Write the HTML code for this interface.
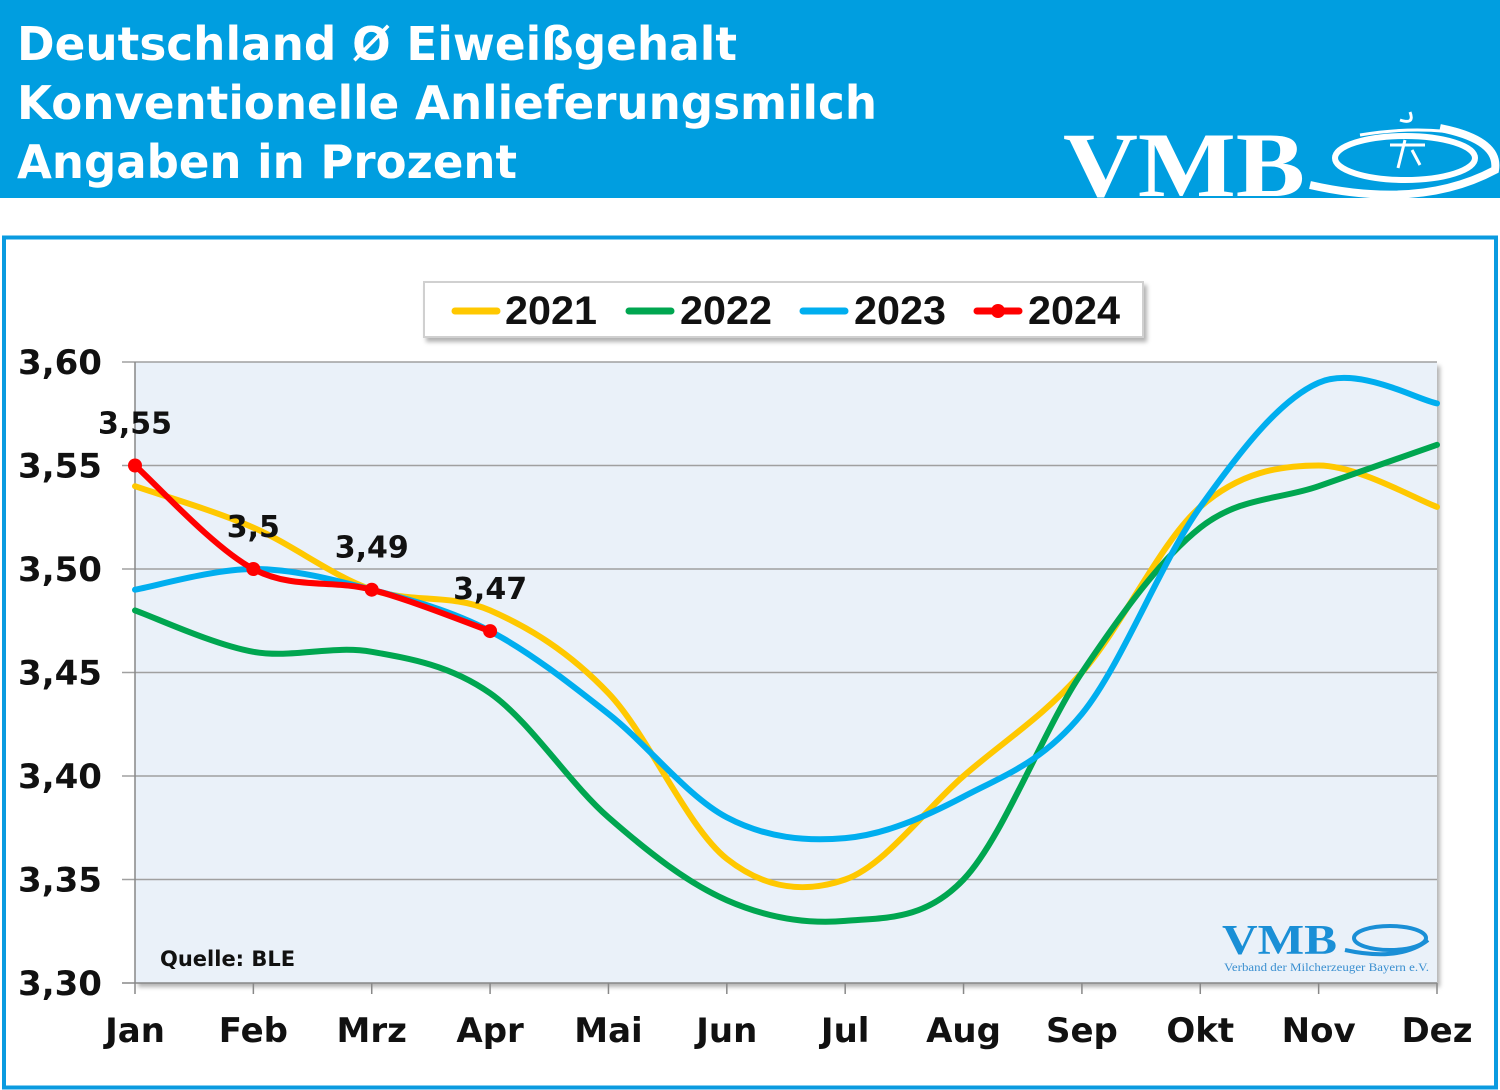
<!DOCTYPE html>
<html><head><meta charset="utf-8"><style>
html,body{margin:0;padding:0;background:#fff;}
svg{display:block;}
</style></head><body>
<svg id="s" width="1500" height="1090" viewBox="0 0 1500 1090" xmlns="http://www.w3.org/2000/svg">
<defs>
<filter id="sh" x="-5%" y="-5%" width="110%" height="130%"><feDropShadow dx="3" dy="4" stdDeviation="2" flood-color="#000" flood-opacity="0.3"/></filter>
</defs>
<rect x="0" y="0" width="1500" height="198" fill="#009ee0"/>
<g font-family="'DejaVu Sans','Liberation Sans',sans-serif" font-weight="bold" fill="#fff" font-size="46">
<text x="17" y="60" textLength="720" lengthAdjust="spacingAndGlyphs">Deutschland Ø Eiweißgehalt</text>
<text x="17" y="119" textLength="860" lengthAdjust="spacingAndGlyphs">Konventionelle Anlieferungsmilch</text>
<text x="17" y="178" textLength="500" lengthAdjust="spacingAndGlyphs">Angaben in Prozent</text>
</g>
<!-- big logo -->
<text x="1063" y="196" font-family="'Liberation Serif',serif" font-weight="bold" font-size="92" fill="#fff" textLength="242" lengthAdjust="spacingAndGlyphs">VMB</text>
<g fill="none" stroke="#fff">
<ellipse cx="1405" cy="158" rx="70" ry="22" stroke-width="6"/>
<path d="M1310 185 Q1420 210 1495 170 Q1500 140 1440 128" stroke-width="8"/>
<path d="M1360 135 Q1420 125 1470 135" stroke-width="3"/>
<path d="M1390 145 L1425 145 M1405 140 L1398 168 M1412 150 L1420 165 M1400 120 Q1415 125 1410 112" stroke-width="3"/>
</g>
<!-- frame -->
<rect x="4" y="237.5" width="1492" height="850" fill="#fff" stroke="#0a9be0" stroke-width="4"/>
<!-- plot area -->
<rect x="135" y="362" width="1302" height="621" fill="#eaf1f9" filter="url(#sh)"/>
<g id="grid" stroke="#a0a0a0" stroke-width="1.5"></g>
<line x1="135" y1="362" x2="135" y2="983" stroke="#888" stroke-width="1.5"/>
<g id="ticks" stroke="#888" stroke-width="1.5"></g>
<g id="ylab" font-family="'DejaVu Sans','Liberation Sans',sans-serif" font-weight="bold" font-size="34" fill="#111"></g>
<g id="xlab" font-family="'DejaVu Sans','Liberation Sans',sans-serif" font-weight="bold" font-size="34" fill="#111" text-anchor="middle"></g>
<g id="series" fill="none" stroke-width="6" stroke-linecap="round"></g>
<text x="160" y="966" font-family="'DejaVu Sans','Liberation Sans',sans-serif" font-weight="bold" font-size="21" fill="#111">Quelle: BLE</text>
<!-- small logo -->
<text x="1222" y="954" font-family="'Liberation Serif',serif" font-weight="bold" font-size="42" fill="#1a8fd6" textLength="115" lengthAdjust="spacingAndGlyphs">VMB</text>
<ellipse cx="1390" cy="938" rx="36" ry="12" fill="none" stroke="#1a8fd6" stroke-width="4"/>
<path d="M1345 950 Q1400 962 1428 940" fill="none" stroke="#1a8fd6" stroke-width="4"/>
<text x="1224" y="971" font-family="'Liberation Serif',serif" font-size="12" fill="#3a8fd0" textLength="205" lengthAdjust="spacingAndGlyphs">Verband der Milcherzeuger Bayern e.V.</text>
<!-- legend -->
<rect x="424" y="282" width="719" height="55" fill="#fff" stroke="#d0d0d0" stroke-width="2" filter="url(#sh)"/>
<g stroke-width="7" stroke-linecap="round">
<line x1="455" y1="311" x2="497" y2="311" stroke="#ffc800"/>
<line x1="629" y1="311" x2="671" y2="311" stroke="#00a650"/>
<line x1="803" y1="311" x2="845" y2="311" stroke="#00aeef"/>
<line x1="977" y1="311" x2="1019" y2="311" stroke="#ff0000"/>
</g>
<circle cx="998" cy="311" r="7" fill="#ff0000"/>
<g font-family="'Liberation Sans',sans-serif" font-weight="bold" font-size="40" fill="#111">
<text x="505" y="324" textLength="92" lengthAdjust="spacingAndGlyphs">2021</text>
<text x="680" y="324" textLength="92" lengthAdjust="spacingAndGlyphs">2022</text>
<text x="854" y="324" textLength="92" lengthAdjust="spacingAndGlyphs">2023</text>
<text x="1028" y="324" textLength="92" lengthAdjust="spacingAndGlyphs">2024</text>
</g>
<g id="dl" font-family="'DejaVu Sans','Liberation Sans',sans-serif" font-weight="bold" font-size="30" fill="#111" text-anchor="middle"></g>
</svg>
<script>
var NS="http://www.w3.org/2000/svg";
function el(t,a,p,txt){var e=document.createElementNS(NS,t);for(var k in a)e.setAttribute(k,a[k]);if(txt!=null)e.textContent=txt;document.getElementById(p).appendChild(e);return e;}
function X(i){return 135+i*(1302/11);}
function Y(v){return 983-(v-3.3)*2070;}
var yl=["3,30","3,35","3,40","3,45","3,50","3,55","3,60"];
for(var i=0;i<7;i++){var y=983-i*103.5;
 el("line",{x1:122,y1:y,x2:1437,y2:y},i==0?"ticks":"grid");
 el("text",{x:18,y:y+12,textLength:84,lengthAdjust:"spacingAndGlyphs"},"ylab",yl[i]);}
var m=["Jan","Feb","Mrz","Apr","Mai","Jun","Jul","Aug","Sep","Okt","Nov","Dez"];
for(var i=0;i<12;i++){el("line",{x1:X(i),y1:983,x2:X(i),y2:994},"ticks");el("text",{x:X(i),y:1042},"xlab",m[i]);}
function path(d){var p=d.map(function(v,i){return [X(i),Y(v)];});var s="M"+p[0][0]+" "+p[0][1];
 for(var i=0;i<p.length-1;i++){var p0=p[i-1]||p[i],p1=p[i],p2=p[i+1],p3=p[i+2]||p2;var t=6;
  s+=" C"+(p1[0]+(p2[0]-p0[0])/t)+" "+(p1[1]+(p2[1]-p0[1])/t)+" "+(p2[0]-(p3[0]-p1[0])/t)+" "+(p2[1]-(p3[1]-p1[1])/t)+" "+p2[0]+" "+p2[1];}
 return s;}
var S=[["#ffc800",[3.54,3.52,3.49,3.48,3.44,3.36,3.35,3.40,3.45,3.53,3.55,3.53]],
["#00a650",[3.48,3.46,3.46,3.44,3.38,3.34,3.33,3.35,3.45,3.52,3.54,3.56]],
["#00aeef",[3.49,3.50,3.49,3.47,3.43,3.38,3.37,3.39,3.43,3.53,3.59,3.58]],
["#ff0000",[3.55,3.50,3.49,3.47]]];
S.forEach(function(s){el("path",{d:path(s[1]),stroke:s[0]},"series");});
var r=S[3][1],lb=["3,55","3,5","3,49","3,47"];
r.forEach(function(v,i){el("circle",{cx:X(i),cy:Y(v),r:7,fill:"#ff0000",stroke:"none"},"series");
 el("text",{x:X(i)+(i==0?0:0),y:Y(v)-32},"dl",lb[i]);});
</script>
</body></html>
